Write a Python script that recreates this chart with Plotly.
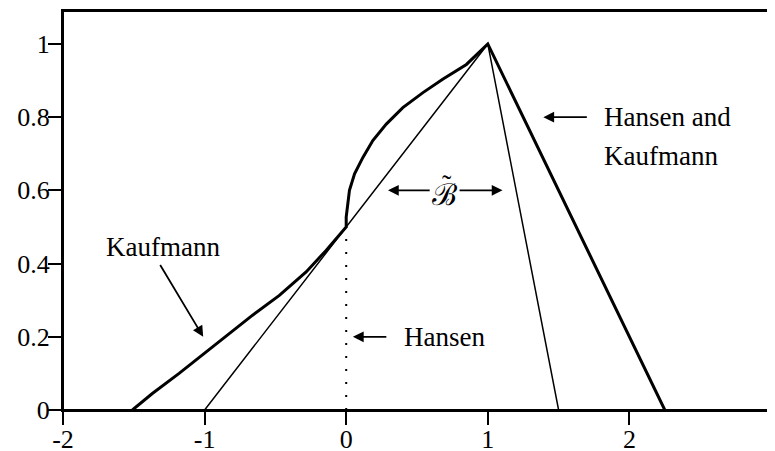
import plotly.graph_objects as go

# Kaufmann curve (thick)
kaufmann_left_x = [-1.51, -1.369, -1.18, -1.015, -0.826, -0.661, -0.472, -0.283, -0.142, 0.0]
kaufmann_left_y = [0.0, 0.045, 0.10, 0.15, 0.209, 0.259, 0.313, 0.377, 0.436, 0.50]
kaufmann_right_x = [0.0, 0.0, 0.023, 0.059, 0.118, 0.188, 0.283, 0.40, 0.542, 0.684, 0.849, 1.0, 2.25]
kaufmann_right_y = [0.50, 0.527, 0.60, 0.645, 0.69, 0.736, 0.781, 0.826, 0.867, 0.904, 0.944, 1.0, 0.0]

# Hansen curve (thin)
hansen_x = [-1.0, 0.0, 1.0, 1.5]
hansen_y = [0.0, 0.5, 1.0, 0.0]

# dotted jump of the Hansen curve at 0
hansen_dot_x = [0.0, 0.0]
hansen_dot_y = [0.0, 0.5]

xticks = [-2, -1, 0, 1, 2, 3]
xtick_text = ['-2', '-1', '0', '1', '2', '3']
yticks = [0, 0.2, 0.4, 0.6, 0.8, 1]
ytick_text = ['0', '0.2', '0.4', '0.6', '0.8', '1']

FONT = 'Liberation Serif'

fig = go.Figure()
fig.add_trace(go.Scatter(x=hansen_dot_x, y=hansen_dot_y, mode='lines',
                         line=dict(color='black', width=2, dash='2px,11px')))
fig.add_trace(go.Scatter(x=hansen_x, y=hansen_y, mode='lines',
                         line=dict(color='black', width=1.5)))
fig.add_trace(go.Scatter(x=kaufmann_left_x + kaufmann_right_x, y=kaufmann_left_y + kaufmann_right_y,
                         mode='lines', line=dict(color='black', width=3)))

# arrows (text-less annotations) and labels
arrows = [
    # head x, head y, tail x, tail y
    (-1.01, 0.20, -1.32, 0.40),
    (0.047, 0.20, 0.294, 0.20),
    (1.392, 0.80, 1.71, 0.80),
    (0.295, 0.60, 0.60, 0.60),
    (1.104, 0.60, 0.79, 0.60),
]
for hx, hy, tx, ty in arrows:
    fig.add_annotation(x=hx, y=hy, ax=tx, ay=ty, xref='x', yref='y', axref='x', ayref='y',
                       text='', showarrow=True, arrowhead=2, arrowsize=1.2, arrowwidth=1.8,
                       arrowcolor='black')

labels = [
    (-1.71, 0.445, 'Kaufmann'),
    (0.395, 0.20, 'Hansen'),
    (1.805, 0.80, 'Hansen and'),
    (1.805, 0.695, 'Kaufmann'),
]
for lx, ly, t in labels:
    fig.add_annotation(x=lx, y=ly, xref='x', yref='y', text=t, showarrow=False,
                       xanchor='left', yanchor='middle', font=dict(family=FONT, size=27, color='black'))

fig.add_annotation(x=0.695, y=0.59, xref='x', yref='y', text='ℬ', showarrow=False,
                   xanchor='center', yanchor='middle', font=dict(family='DejaVu Serif', size=30, color='black'))
fig.add_annotation(x=0.71, y=0.615, xref='x', yref='y', text='˜', showarrow=False,
                   xanchor='center', yanchor='middle', font=dict(family=FONT, size=28, color='black'))

# plot frame
fig.add_shape(type='rect', xref='paper', yref='paper', x0=0, x1=1, y0=0, y1=1,
              line=dict(color='black', width=2), layer='above')

axis_style = dict(showgrid=False, zeroline=False, showline=True, mirror=True,
                  linecolor='black', linewidth=2, automargin=False,
                  ticks='outside', tickwidth=2, tickcolor='black',
                  tickfont=dict(family=FONT, size=26, color='black'))

# the page body has an 8px margin, so the figure is shifted 8px right and down
fig.update_layout(
    width=767, height=443,
    margin=dict(l=55, r=4, t=3, b=41),
    plot_bgcolor='white', paper_bgcolor='white',
    showlegend=False,
    font=dict(family=FONT, size=26, color='black'),
    xaxis=dict(range=[-2, 3], tickvals=xticks, ticktext=xtick_text, ticklen=5,
               minor=dict(tickvals=xticks, ticks='outside', ticklen=13, tickwidth=2, tickcolor='black'),
               **axis_style),
    yaxis=dict(range=[0, 1.09], tickvals=yticks, ticktext=ytick_text, ticklen=2, ticklabelstandoff=4,
               minor=dict(tickvals=yticks, ticks='outside', ticklen=13, tickwidth=2, tickcolor='black'),
               **axis_style),
)

fig.write_html("out.html")
